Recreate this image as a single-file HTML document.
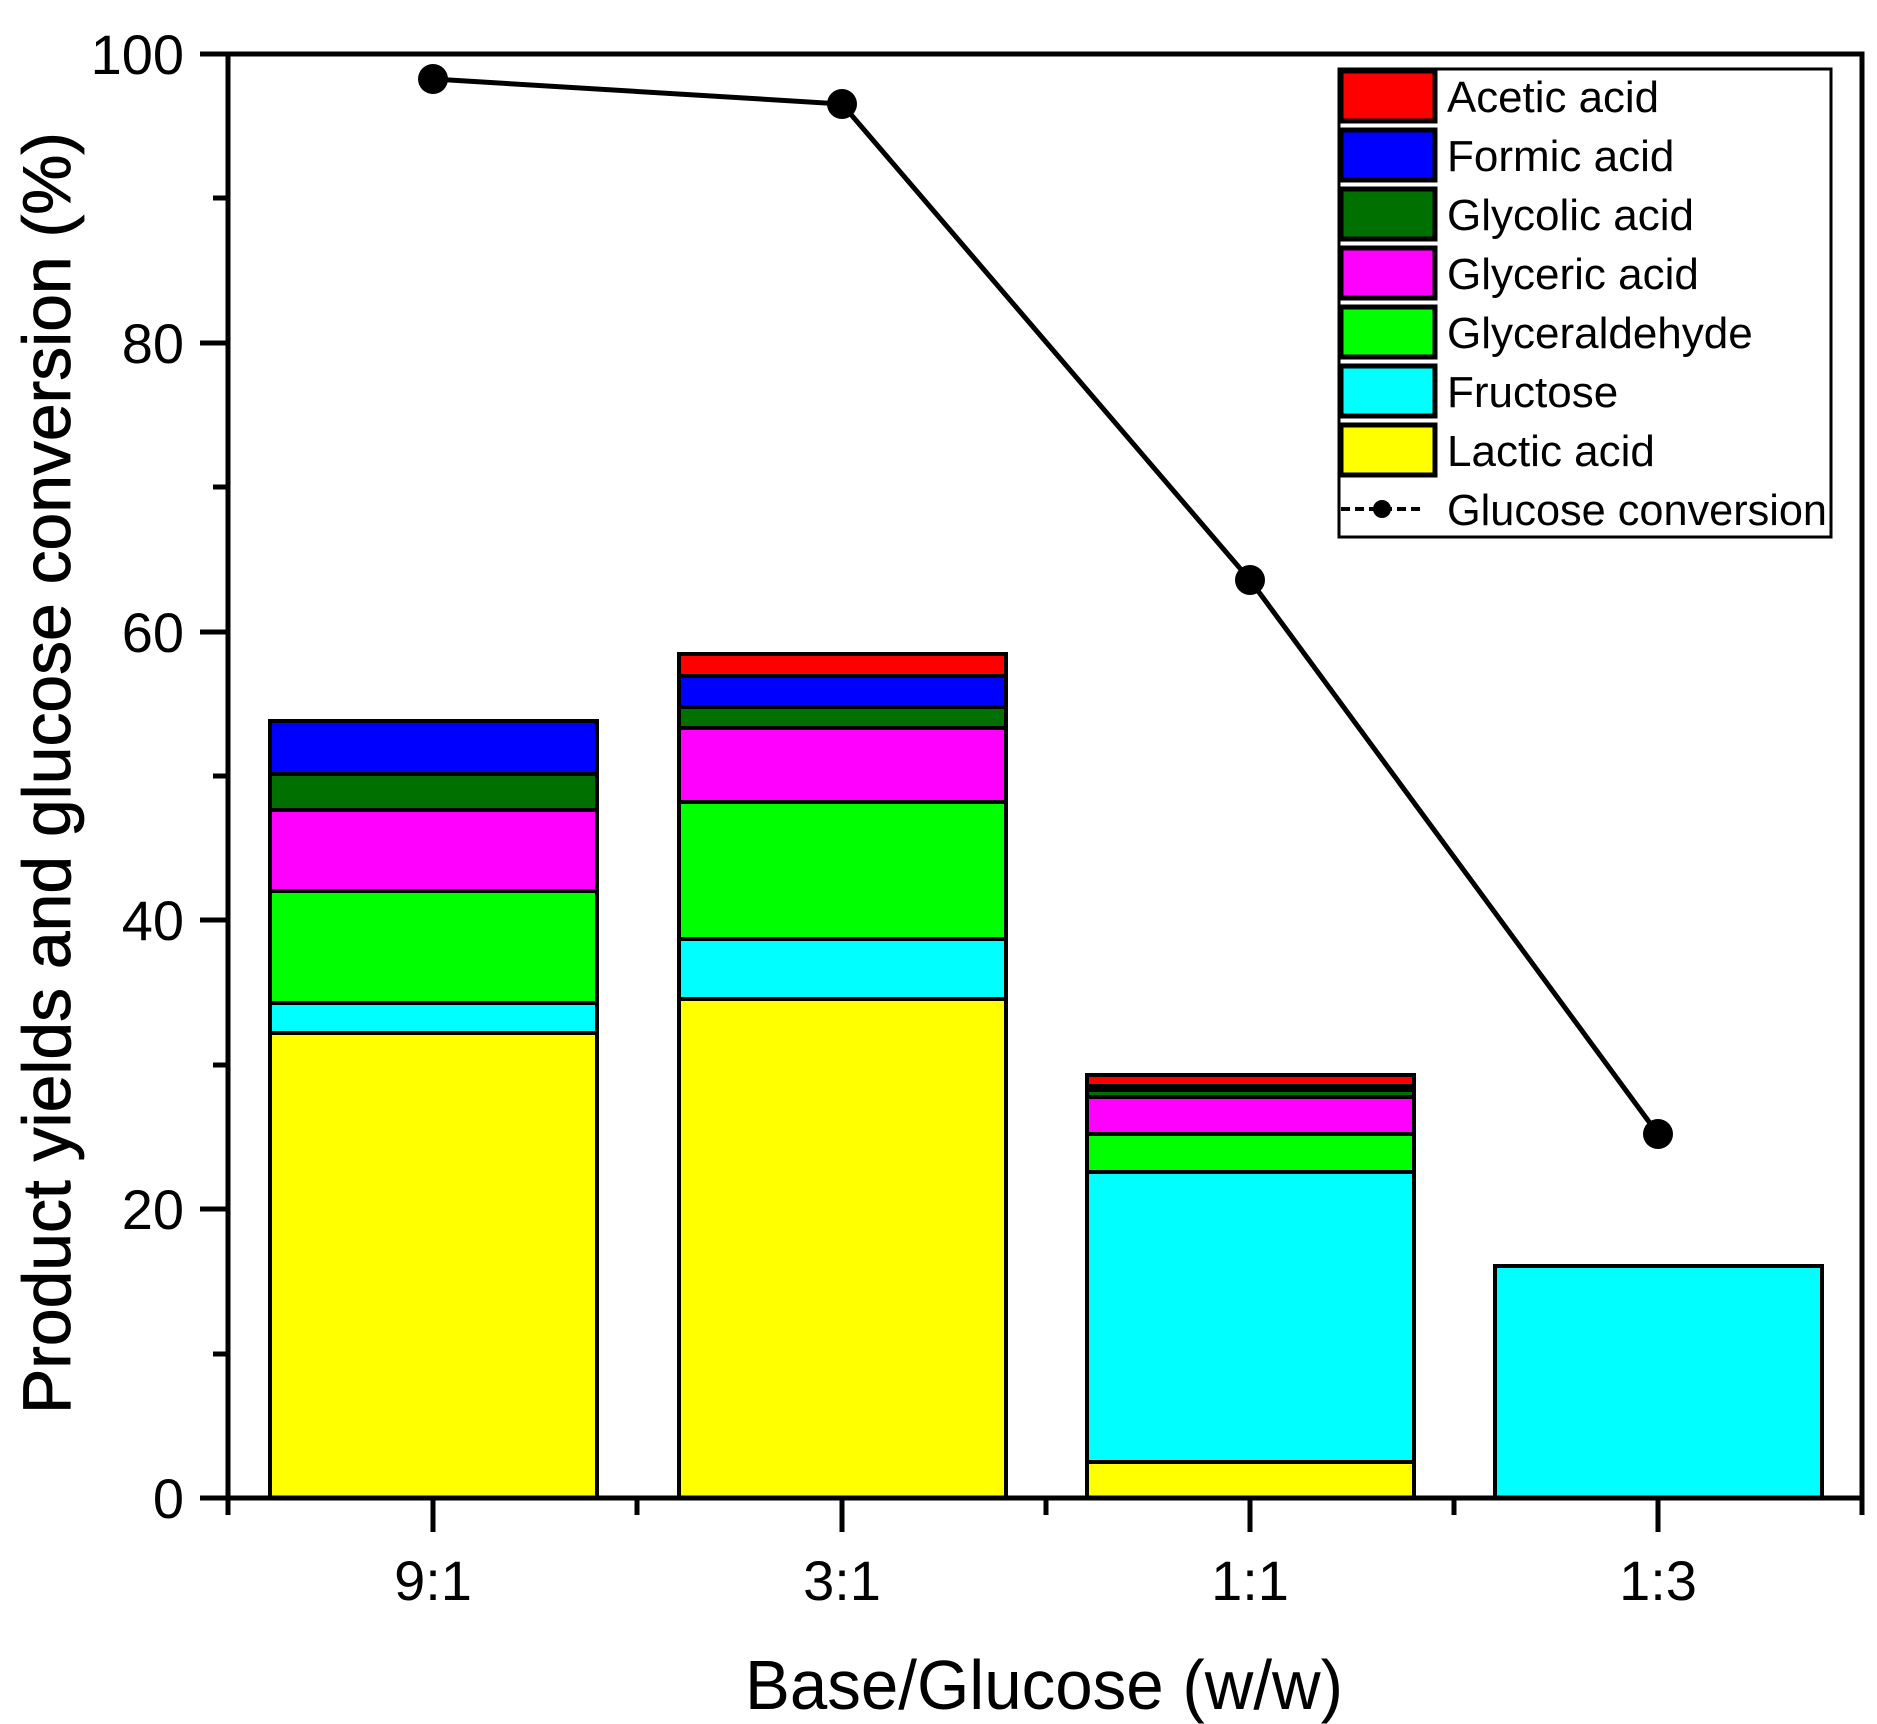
<!DOCTYPE html>
<html><head><meta charset="utf-8"><style>html,body{margin:0;padding:0;background:#fff}svg{display:block}</style></head>
<body>
<svg width="1877" height="1724" viewBox="0 0 1877 1724" xmlns="http://www.w3.org/2000/svg" font-family="Liberation Sans, Arial, sans-serif">
<g stroke="#000" stroke-width="4">
<rect x="270" y="1033" width="327" height="465" fill="#ffff00"/>
<rect x="270" y="1003" width="327" height="30" fill="#00ffff"/>
<rect x="270" y="891" width="327" height="112" fill="#00ff00"/>
<rect x="270" y="810" width="327" height="81" fill="#ff00ff"/>
<rect x="270" y="774" width="327" height="36" fill="#007000"/>
<rect x="270" y="721" width="327" height="53" fill="#0000ff"/>
<rect x="679" y="999" width="327" height="499" fill="#ffff00"/>
<rect x="679" y="939" width="327" height="60" fill="#00ffff"/>
<rect x="679" y="802" width="327" height="137" fill="#00ff00"/>
<rect x="679" y="728" width="327" height="74" fill="#ff00ff"/>
<rect x="679" y="707" width="327" height="21" fill="#007000"/>
<rect x="679" y="676" width="327" height="31" fill="#0000ff"/>
<rect x="679" y="654" width="327" height="22" fill="#ff0000"/>
<rect x="1087" y="1462" width="327" height="36" fill="#ffff00"/>
<rect x="1087" y="1172" width="327" height="290" fill="#00ffff"/>
<rect x="1087" y="1134" width="327" height="38" fill="#00ff00"/>
<rect x="1087" y="1097" width="327" height="37" fill="#ff00ff"/>
<rect x="1087" y="1090" width="327" height="7" fill="#007000"/>
<rect x="1087" y="1086" width="327" height="4" fill="#0000ff"/>
<rect x="1087" y="1075" width="327" height="11" fill="#ff0000"/>
<rect x="1495" y="1266" width="327" height="232" fill="#00ffff"/>
</g>
<g stroke="#000" stroke-width="5" fill="none">
<polyline points="228,54 1862,54 1862,1498"/>
<line x1="228" y1="54" x2="228" y2="1515"/>
<line x1="200" y1="1498" x2="1862" y2="1498"/>
<path d="M200 54H228M200 343H228M200 632H228M200 920H228M200 1209H228M213 198H228M213 487H228M213 776H228M213 1065H228M213 1354H228"/>
<path d="M433 1498V1532M842 1498V1532M1250 1498V1532M1658 1498V1532M637 1498V1515M1046 1498V1515M1454 1498V1515M1862 1498V1515"/>
</g>
<g font-size="56" text-anchor="end" fill="#000">
<text x="184" y="74">100</text><text x="184" y="363">80</text><text x="184" y="652">60</text><text x="184" y="940">40</text><text x="184" y="1229">20</text><text x="184" y="1518">0</text>
</g>
<g font-size="56" text-anchor="middle" fill="#000">
<text x="433" y="1600">9:1</text><text x="842" y="1600">3:1</text><text x="1250" y="1600">1:1</text><text x="1658" y="1600">1:3</text>
</g>
<text x="745" y="1709" font-size="70" textLength="598" lengthAdjust="spacingAndGlyphs">Base/Glucose (w/w)</text>
<text transform="translate(70,1414) rotate(-90)" font-size="68" textLength="1282" lengthAdjust="spacingAndGlyphs" stroke="#000" stroke-width="0.8">Product yields and glucose conversion (%)</text>
<polyline points="433,79 842,104 1250,580 1658,1134" fill="none" stroke="#000" stroke-width="5"/>
<g fill="#000"><circle cx="433" cy="79" r="15"/><circle cx="842" cy="104" r="15"/><circle cx="1250" cy="580" r="15"/><circle cx="1658" cy="1134" r="15"/></g>
<rect x="1339" y="69" width="492" height="468" fill="#fff" stroke="#000" stroke-width="3"/>
<g stroke="#000" stroke-width="5">
<rect x="1341" y="71" width="94" height="50" fill="#ff0000"/>
<rect x="1341" y="130" width="94" height="50" fill="#0000ff"/>
<rect x="1341" y="189" width="94" height="50" fill="#007000"/>
<rect x="1341" y="248" width="94" height="50" fill="#ff00ff"/>
<rect x="1341" y="307" width="94" height="50" fill="#00ff00"/>
<rect x="1341" y="366" width="94" height="50" fill="#00ffff"/>
<rect x="1341" y="425" width="94" height="50" fill="#ffff00"/>
<line x1="1341" y1="509" x2="1425" y2="509" stroke-dasharray="9,5" stroke-width="4"/>
</g>
<circle cx="1382" cy="509" r="9" fill="#000"/>
<g font-size="44" fill="#000">
<text x="1447" y="112" textLength="212" lengthAdjust="spacingAndGlyphs">Acetic acid</text>
<text x="1447" y="171">Formic acid</text>
<text x="1447" y="230">Glycolic acid</text>
<text x="1447" y="289">Glyceric acid</text>
<text x="1447" y="348">Glyceraldehyde</text>
<text x="1447" y="407">Fructose</text>
<text x="1447" y="466">Lactic acid</text>
<text x="1447" y="525" textLength="380" lengthAdjust="spacingAndGlyphs">Glucose conversion</text>
</g>
</svg>
</body></html>
